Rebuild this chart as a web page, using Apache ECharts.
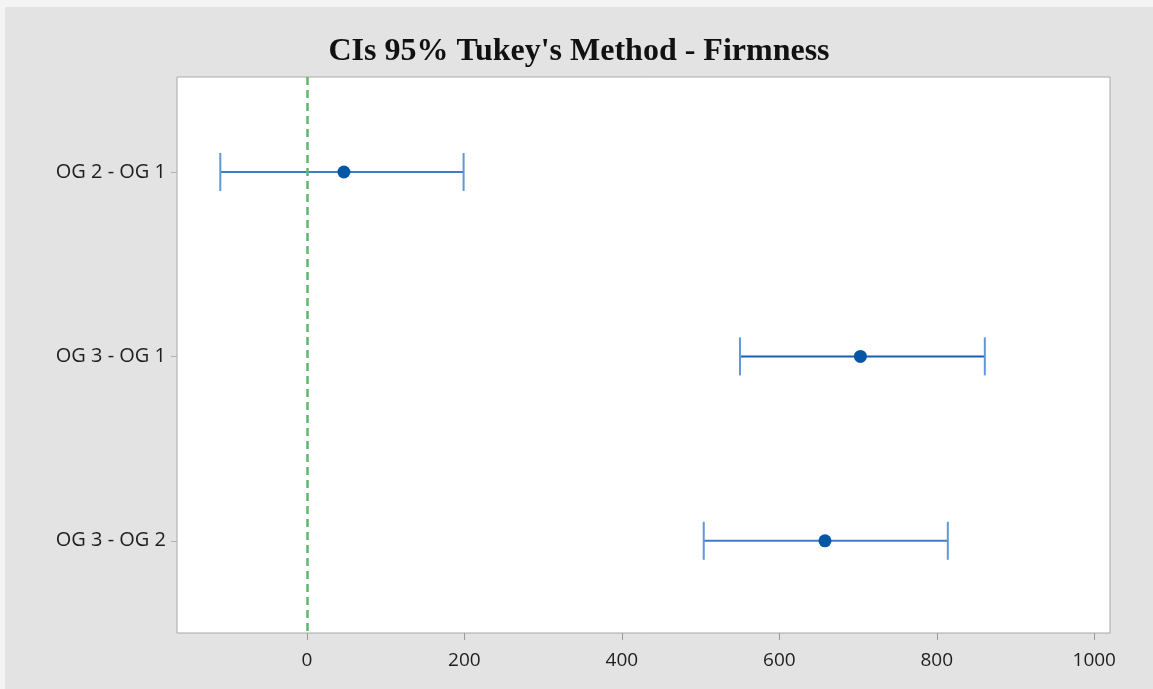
<!DOCTYPE html>
<html>
<head>
<meta charset="utf-8">
<script src="https://cdn.jsdelivr.net/npm/echarts@6/dist/echarts.min.js"></script>
<style>
html,body{margin:0;padding:0;background:#f4f4f4;width:1153px;height:689px;overflow:hidden;}
#chart{position:absolute;left:5px;top:7px;width:1148px;height:682px;background:#e3e3e3;}
</style>
</head>
<body>
<div id="chart"></div>
<script>
const categories = ['OG 2 - OG 1', 'OG 3 - OG 1', 'OG 3 - OG 2'];
const lowerValues = [-110, 550, 504];
const centerValues = [47, 703, 658];
const upperValues = [199, 861, 814];
const xTicks = [0, 200, 400, 600, 800, 1000];
const yTicks = [1, 2, 3];
const referenceValue = 0;

const chart = echarts.init(document.getElementById('chart'));
const ciData = categories.map((c, i) => [i + 1, lowerValues[i], centerValues[i], upperValues[i]]);

chart.setOption({
  animation: false,
  title: {
    text: "CIs 95% Tukey's Method - Firmness",
    left: 'center',
    top: 24,
    textStyle: { fontFamily: 'Liberation Serif', fontWeight: 'bold', fontSize: 32, color: '#111' }
  },
  grid: { left: 172, right: 43, top: 70, bottom: 56, show: true, backgroundColor: '#ffffff', borderColor: '#a8a8a8', borderWidth: 1 },
  xAxis: {
    type: 'value',
    min: -165, max: 1020,
    splitLine: { show: false },
    axisLine: { show: false },
    axisTick: { show: true, length: 7, lineStyle: { color: '#9a9a9a' }, customValues: xTicks },
    axisLabel: { customValues: xTicks, formatter: v => String(v), fontFamily: 'Open Sans', fontSize: 19, color: '#1e1e1e', margin: 18 }
  },
  yAxis: {
    type: 'value',
    min: 0.485, max: 3.5,
    inverse: true,
    axisLine: { show: false, onZero: false },
    axisTick: { show: true, length: 6, lineStyle: { color: '#b0b0b0' }, customValues: yTicks },
    axisLabel: { customValues: yTicks, formatter: v => categories[Math.round(v) - 1], fontFamily: 'Open Sans', fontSize: 20, color: '#1e1e1e', margin: 11 },
    splitLine: { show: false }
  },
  series: [
    {
      type: 'custom',
      data: ciData,
      encode: { x: [1, 2, 3], y: 0 },
      renderItem: function (params, api) {
        const idx = api.value(0);
        const lo = api.coord([api.value(1), idx]);
        const mid = api.coord([api.value(2), idx]);
        const hi = api.coord([api.value(3), idx]);
        const h = 19;
        const lineColor = idx === 2 ? '#1c5eac' : '#3f7cc4';
        const capColor = '#5e98d6';
        return {
          type: 'group',
          children: [
            { type: 'line', shape: { x1: lo[0], y1: lo[1], x2: hi[0], y2: hi[1] }, style: { stroke: lineColor, lineWidth: 2 } },
            { type: 'line', shape: { x1: lo[0], y1: lo[1] - h, x2: lo[0], y2: lo[1] + h }, style: { stroke: capColor, lineWidth: 2 } },
            { type: 'line', shape: { x1: hi[0], y1: hi[1] - h, x2: hi[0], y2: hi[1] + h }, style: { stroke: capColor, lineWidth: 2 } },
            { type: 'circle', shape: { cx: mid[0], cy: mid[1], r: 6.5 }, style: { fill: '#0656a8' } }
          ]
        };
      },
      z: 3
    },
    {
      type: 'line',
      data: [],
      markLine: {
        silent: true,
        symbol: 'none',
        label: { show: false },
        lineStyle: { color: '#5cb86a', type: [8, 5], width: 2.5 },
        data: [{ xAxis: referenceValue }]
      },
      z: 2
    }
  ]
});
</script>
</body>
</html>
